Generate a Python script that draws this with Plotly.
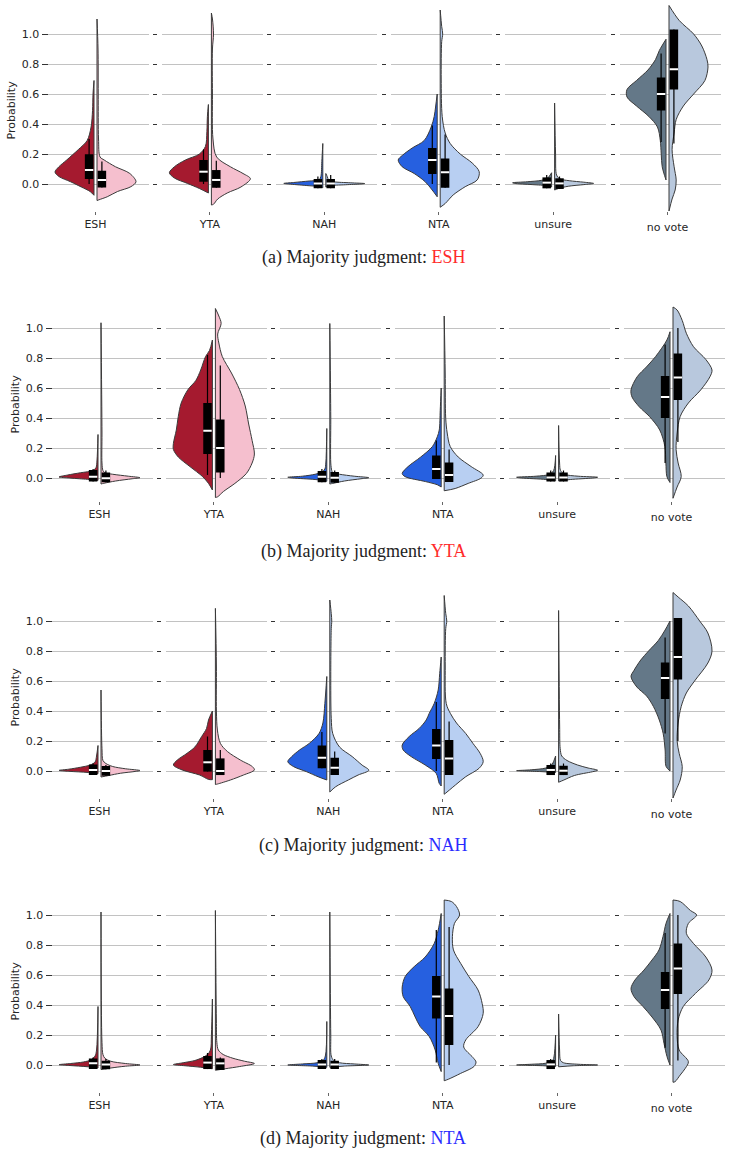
import plotly.graph_objects as go

# ---------------- data ----------------
CATEGORIES = ["ESH", "YTA", "NAH", "NTA", "unsure", "no vote"]
Y_TICKS = [0.0, 0.2, 0.4, 0.6, 0.8, 1.0]
PANEL_TAGS = ["(a)", "(b)", "(c)", "(d)"]
PANEL_JUDGMENTS = ["ESH", "YTA", "NAH", "NTA"]

# Each half-violin: y knots and relative density (width).
# Box entries: [q1, median, q3, lower whisker, upper whisker]

# ---- (a) Majority judgment: ESH ----
A_LEFT_Y = [
    [-0.075, -0.05, -0.02, 0.015, 0.05, 0.08, 0.115, 0.16, 0.23, 0.29, 0.38, 0.49, 0.6, 0.69],
    [-0.06, -0.03, 0.004, 0.04, 0.075, 0.115, 0.16, 0.2, 0.25, 0.35, 0.45, 0.53],
    [-0.025, -0.018, -0.01, 0.0, 0.004, 0.01, 0.02, 0.027, 0.05, 0.15, 0.27],
    [-0.085, -0.04, 0.015, 0.07, 0.115, 0.16, 0.19, 0.24, 0.29, 0.38, 0.45, 0.52, 0.6],
    [-0.02, -0.012, -0.004, 0.004, 0.008, 0.015, 0.025, 0.04, 0.075],
    [0.027, 0.115, 0.2, 0.29, 0.38, 0.45, 0.52, 0.58, 0.63, 0.69, 0.76, 0.83, 0.89, 0.965],
]
A_LEFT_W = [
    [0, 4, 13, 24, 36, 40, 36, 28, 16, 7, 3, 1.5, 1, 0],
    [0, 9, 21, 34, 39, 34, 23, 9, 3, 1.5, 1, 0],
    [0, 3, 17, 35, 40, 30, 14, 4, 2, 1, 0],
    [0, 5, 12, 23, 35, 39, 35, 25, 13, 6, 3, 1.5, 0],
    [0, 4, 20, 38, 40, 25, 10, 4, 0],
    [0, 4, 5, 6, 9, 18, 31, 41, 41, 31, 19, 11, 7, 0],
]
A_RIGHT_Y = [
    [-0.11, -0.105, -0.085, -0.05, -0.018, 0.015, 0.07, 0.115, 0.16, 0.18, 0.3, 0.6, 0.9, 1.1],
    [-0.14, -0.135, -0.1, -0.06, -0.02, 0.035, 0.07, 0.115, 0.18, 0.3, 0.6, 0.9, 1.0, 1.1, 1.14],
    [-0.02, -0.012, -0.005, 0.0, 0.003, 0.008, 0.015, 0.025, 0.05, 0.07],
    [-0.155, -0.13, -0.073, -0.018, 0.027, 0.082, 0.14, 0.2, 0.27, 0.34, 0.45, 0.7, 0.95, 1.0, 1.05, 1.16],
    [-0.04, -0.03, -0.015, -0.004, 0.004, 0.012, 0.022, 0.035, 0.06, 0.2, 0.54],
    [-0.18, -0.1, -0.04, 0.027, 0.115, 0.23, 0.34, 0.43, 0.52, 0.6, 0.69, 0.78, 0.83, 0.92, 1.0, 1.09, 1.19],
]
A_RIGHT_W = [
    [0, 2, 10, 20, 33, 38, 32, 18, 7, 3, 1.5, 1.2, 1, 0],
    [0, 2, 6, 15, 28, 37, 30, 18, 5, 1.5, 1, 1, 2, 1, 0],
    [0, 3, 20, 36, 40, 25, 8, 3, 1.5, 0],
    [0, 5, 13, 25, 37, 39, 32, 20, 10, 5, 2, 1, 1.5, 2.5, 1.5, 0],
    [0, 4, 14, 30, 40, 30, 15, 5, 2, 1, 0],
    [0, 3, 6, 7, 5, 3, 5, 7, 14, 24, 35, 38, 37, 32, 24, 10, 0],
]
A_LEFT_BOX = [
    [0.033, 0.093, 0.198, 0.0, 0.30],
    [0.015, 0.082, 0.16, 0.0, 0.23],
    [-0.029, 0.004, 0.033, -0.029, 0.05],
    [0.067, 0.16, 0.24, 0.0, 0.39],
    [-0.029, 0.009, 0.044, -0.029, 0.06],
    [0.49, 0.60, 0.71, 0.28, 0.87],
]
A_RIGHT_BOX = [
    [-0.024, 0.027, 0.089, -0.024, 0.15],
    [-0.025, 0.027, 0.093, -0.025, 0.155],
    [-0.029, 0.004, 0.033, -0.029, 0.06],
    [-0.025, 0.078, 0.17, -0.025, 0.33],
    [-0.033, 0.004, 0.038, -0.033, 0.05],
    [0.63, 0.765, 1.03, 0.27, 1.03],
]

# ---- (b) Majority judgment: YTA ----
B_LEFT_Y = [
    [-0.016, -0.013, -0.005, 0.0, 0.007, 0.02, 0.035, 0.05, 0.07, 0.12, 0.29],
    [-0.08, -0.036, 0.009, 0.076, 0.14, 0.19, 0.23, 0.32, 0.41, 0.5, 0.59, 0.65, 0.72, 0.81, 0.85, 0.92],
    [-0.022, -0.018, -0.01, 0.0, 0.005, 0.012, 0.025, 0.04, 0.06, 0.1, 0.33],
    [-0.06, -0.045, -0.024, 0.009, 0.03, 0.076, 0.14, 0.21, 0.275, 0.32, 0.45, 0.6],
    [-0.02, -0.01, 0.0, 0.005, 0.012, 0.025, 0.05, 0.15],
    [-0.03, 0.009, 0.1, 0.21, 0.32, 0.41, 0.475, 0.54, 0.587, 0.675, 0.74, 0.81, 0.92, 0.975],
]
B_LEFT_W = [
    [0, 3, 19, 29, 40, 31, 18, 5, 2, 1, 0],
    [0, 4, 10, 23, 35, 40, 40, 37, 35, 32, 25, 17, 12, 7, 3, 0],
    [0, 3, 12, 35, 40, 25, 12, 5, 2, 1, 0],
    [0, 4, 16, 37, 40, 34, 21, 9, 4, 2, 1, 0],
    [0, 10, 35, 40, 20, 6, 2, 0],
    [0, 3, 4, 5, 10, 20, 30, 37, 38, 32, 23, 14, 3, 0],
]
B_RIGHT_Y = [
    [-0.04, -0.035, -0.02, -0.005, 0.002, 0.012, 0.025, 0.035, 0.05, 0.1, 0.3, 1.035],
    [-0.13, -0.125, -0.09, -0.036, 0.03, 0.1, 0.16, 0.25, 0.36, 0.48, 0.59, 0.7, 0.81, 0.9, 0.96, 1.03, 1.08, 1.13],
    [-0.04, -0.036, -0.02, -0.005, 0.002, 0.012, 0.025, 0.036, 0.05, 0.1, 0.4, 1.03],
    [-0.085, -0.07, -0.036, 0.0, 0.02, 0.076, 0.14, 0.21, 0.3, 0.4, 0.7, 1.08],
    [-0.02, -0.01, 0.0, 0.005, 0.012, 0.025, 0.05, 0.1, 0.35],
    [-0.135, -0.06, 0.009, 0.1, 0.19, 0.3, 0.41, 0.5, 0.587, 0.675, 0.72, 0.79, 0.875, 0.965, 1.05, 1.12, 1.14],
]
B_RIGHT_W = [
    [0, 3, 15, 32, 40, 28, 12, 4, 2, 1, 1, 0],
    [0, 2, 7, 17, 27, 32, 34, 32, 29, 26, 21, 14, 6, 3, 2, 5, 3, 0],
    [0, 3, 15, 32, 40, 25, 10, 3, 2, 1, 1, 0],
    [0, 11, 24, 37, 39, 27, 14, 6, 3, 1.5, 1, 0],
    [0, 12, 35, 40, 20, 6, 2, 1, 0],
    [0, 4, 8, 5, 3, 4, 7, 15, 27, 36, 38, 32, 20, 13, 9, 4, 0],
]
B_LEFT_BOX = [
    [-0.024, 0.009, 0.053, -0.024, 0.06],
    [0.16, 0.315, 0.50, 0.02, 0.82],
    [-0.029, 0.009, 0.047, -0.029, 0.06],
    [-0.007, 0.06, 0.15, -0.007, 0.25],
    [-0.024, 0.004, 0.036, -0.024, 0.05],
    [0.40, 0.54, 0.68, 0.10, 0.89],
]
B_RIGHT_BOX = [
    [-0.029, -0.002, 0.036, -0.029, 0.05],
    [0.036, 0.20, 0.39, 0.0, 0.75],
    [-0.031, 0.002, 0.04, -0.031, 0.05],
    [-0.027, 0.02, 0.104, -0.027, 0.19],
    [-0.024, 0.004, 0.036, -0.024, 0.05],
    [0.52, 0.67, 0.83, 0.24, 1.0],
]

# ---- (c) Majority judgment: NAH ----
C_LEFT_Y = [
    [-0.018, -0.01, -0.002, 0.004, 0.012, 0.025, 0.04, 0.06, 0.1, 0.17],
    [-0.058, -0.056, -0.027, 0.007, 0.04, 0.073, 0.118, 0.16, 0.23, 0.284, 0.34, 0.4],
    [-0.06, -0.038, -0.004, 0.029, 0.062, 0.096, 0.14, 0.184, 0.25, 0.32, 0.45, 0.63],
    [-0.1, -0.082, -0.016, 0.04, 0.096, 0.14, 0.173, 0.23, 0.284, 0.34, 0.384, 0.45, 0.54, 0.65, 0.76],
    [-0.01, -0.004, 0.002, 0.008, 0.02, 0.04, 0.1],
    [0.0, 0.03, 0.14, 0.25, 0.34, 0.43, 0.5, 0.56, 0.63, 0.67, 0.74, 0.8, 0.87, 0.94, 1.0],
]
C_LEFT_W = [
    [0, 10, 30, 40, 30, 18, 8, 3, 1.5, 0],
    [0, 4, 13, 31, 40, 36, 26, 18, 11, 6, 4, 0],
    [0, 9, 21, 34, 40, 36, 28, 18, 8, 4, 2, 0],
    [0, 2, 5, 16, 30, 38, 39, 32, 22, 15, 12, 7, 3, 1.5, 0],
    [0, 15, 40, 25, 10, 4, 0],
    [0, 4, 5, 7, 11, 17, 24, 34, 40, 37, 30, 22, 12, 5, 0],
]
C_RIGHT_Y = [
    [-0.04, -0.03, -0.015, -0.003, 0.003, 0.015, 0.03, 0.05, 0.07, 0.15, 0.54],
    [-0.09, -0.087, -0.06, -0.027, 0.007, 0.029, 0.073, 0.13, 0.184, 0.273, 0.4, 0.7, 1.084],
    [-0.14, -0.105, -0.06, -0.027, 0.005, 0.04, 0.096, 0.16, 0.25, 0.35, 0.6, 0.95, 1.0, 1.05, 1.14],
    [-0.155, -0.15, -0.093, -0.038, 0.018, 0.062, 0.118, 0.184, 0.25, 0.32, 0.384, 0.45, 0.7, 0.95, 1.0, 1.05, 1.17],
    [-0.075, -0.06, -0.03, -0.005, 0.005, 0.02, 0.04, 0.07, 0.1, 0.15, 0.3, 1.07],
    [-0.18, -0.127, -0.06, 0.029, 0.118, 0.2, 0.32, 0.43, 0.52, 0.6, 0.72, 0.8, 0.92, 1.0, 1.1, 1.16, 1.19],
]
C_RIGHT_W = [
    [0, 8, 20, 35, 40, 25, 12, 5, 2, 1, 0],
    [0, 2, 15, 28, 39, 37, 25, 12, 5, 2, 1, 1, 0],
    [0, 6, 19, 29, 40, 33, 23, 10, 3, 1.5, 1, 1.5, 2, 1.5, 0],
    [0, 1, 11, 21, 34, 38, 35, 28, 21, 12, 6, 2, 1, 1.5, 2.5, 1.5, 0],
    [0, 5, 15, 32, 37, 28, 18, 8, 3, 1.5, 1, 0],
    [0, 3, 7, 9, 6, 4, 5, 8, 13, 21, 34, 38, 34, 26, 15, 5, 0],
]
C_LEFT_BOX = [
    [-0.027, 0.007, 0.044, -0.027, 0.05],
    [-0.004, 0.058, 0.14, -0.004, 0.23],
    [0.018, 0.089, 0.17, 0.018, 0.26],
    [0.08, 0.17, 0.28, 0.0, 0.46],
    [-0.027, 0.007, 0.04, -0.027, 0.05],
    [0.48, 0.62, 0.724, 0.25, 0.89],
]
C_RIGHT_BOX = [
    [-0.031, 0.0, 0.033, -0.031, 0.04],
    [-0.027, 0.0, 0.084, -0.027, 0.14],
    [-0.027, 0.022, 0.089, -0.027, 0.13],
    [-0.027, 0.084, 0.207, -0.027, 0.33],
    [-0.027, 0.002, 0.035, -0.027, 0.05],
    [0.61, 0.76, 1.02, 0.20, 1.02],
]

# ---- (d) Majority judgment: NTA ----
D_LEFT_Y = [
    [-0.02, -0.012, -0.003, 0.002, 0.01, 0.02, 0.035, 0.06, 0.1, 0.39],
    [-0.025, -0.015, -0.005, 0.003, 0.015, 0.03, 0.05, 0.07, 0.1, 0.2, 0.44],
    [-0.015, -0.007, 0.0, 0.007, 0.015, 0.03, 0.06, 0.29],
    [-0.044, 0.011, 0.1, 0.19, 0.256, 0.32, 0.39, 0.456, 0.52, 0.59, 0.656, 0.72, 0.81, 0.9, 1.01],
    [-0.01, -0.005, 0.0, 0.005, 0.012, 0.03, 0.06, 0.2],
    [0.0, 0.056, 0.144, 0.233, 0.32, 0.39, 0.456, 0.51, 0.567, 0.633, 0.7, 0.767, 0.856, 0.944, 1.01],
]
D_LEFT_W = [
    [0, 10, 30, 40, 28, 15, 7, 3, 1.5, 0],
    [0, 12, 28, 40, 30, 18, 10, 5, 2, 1, 0],
    [0, 15, 40, 25, 10, 4, 1.5, 0],
    [0, 3, 6, 12, 21, 26, 31, 38, 39, 36, 27, 16, 7, 3, 0],
    [0, 12, 40, 25, 10, 3, 1.5, 0],
    [0, 3, 6, 9, 18, 27, 36, 39, 35, 26, 18, 11, 7, 4, 0],
]
D_RIGHT_Y = [
    [-0.03, -0.02, -0.008, 0.0, 0.01, 0.025, 0.045, 0.07, 0.15, 1.02],
    [-0.035, -0.025, -0.01, 0.01, 0.025, 0.045, 0.07, 0.1, 0.15, 0.3, 1.03],
    [-0.015, -0.007, 0.0, 0.007, 0.015, 0.03, 0.06, 0.2, 1.02],
    [-0.105, -0.095, -0.056, -0.01, 0.02, 0.05, 0.12, 0.167, 0.256, 0.344, 0.41, 0.5, 0.59, 0.678, 0.767, 0.856, 0.944, 1.0, 1.056, 1.09, 1.1],
    [-0.012, -0.005, 0.0, 0.005, 0.015, 0.03, 0.1, 0.34],
    [-0.115, -0.111, -0.067, -0.022, 0.022, 0.1, 0.19, 0.3, 0.39, 0.478, 0.567, 0.633, 0.72, 0.81, 0.878, 0.944, 1.0, 1.03, 1.09, 1.1],
]
D_RIGHT_W = [
    [0, 10, 25, 40, 25, 10, 4, 2, 1, 0],
    [0, 10, 25, 40, 30, 18, 8, 3, 1.5, 1, 0],
    [0, 15, 40, 25, 10, 4, 1.5, 1, 0],
    [0, 4, 16, 29, 31, 28, 19, 21, 33, 38, 37, 33, 24, 16, 9, 8, 10, 15, 12, 7, 0],
    [0, 15, 40, 20, 5, 2, 1, 0],
    [0, 2, 7, 12, 15, 6, 4, 5, 10, 22, 35, 38, 32, 20, 13, 15, 23, 17, 7, 0],
]
D_LEFT_BOX = [
    [-0.027, 0.011, 0.044, -0.027, 0.05],
    [-0.027, 0.016, 0.06, -0.027, 0.08],
    [-0.027, 0.004, 0.033, -0.027, 0.04],
    [0.31, 0.456, 0.593, 0.016, 0.90],
    [-0.027, 0.004, 0.033, -0.027, 0.04],
    [0.373, 0.50, 0.62, 0.115, 0.88],
]
D_RIGHT_BOX = [
    [-0.029, 0.004, 0.029, -0.029, 0.04],
    [-0.033, 0.011, 0.044, -0.033, 0.05],
    [-0.027, 0.004, 0.029, -0.027, 0.04],
    [0.133, 0.327, 0.51, 0.0, 0.92],
    None,
    [0.473, 0.644, 0.81, 0.03, 1.0],
]

PANELS = [
    (A_LEFT_Y, A_LEFT_W, A_RIGHT_Y, A_RIGHT_W, A_LEFT_BOX, A_RIGHT_BOX),
    (B_LEFT_Y, B_LEFT_W, B_RIGHT_Y, B_RIGHT_W, B_LEFT_BOX, B_RIGHT_BOX),
    (C_LEFT_Y, C_LEFT_W, C_RIGHT_Y, C_RIGHT_W, C_LEFT_BOX, C_RIGHT_BOX),
    (D_LEFT_Y, D_LEFT_W, D_RIGHT_Y, D_RIGHT_W, D_LEFT_BOX, D_RIGHT_BOX),
]

# ---------------- style / layout ----------------
W, H = 730, 1155
PAIR_COLORS = {
    "ESH": ("#a51a2f", "#f5bfce"),
    "YTA": ("#a51a2f", "#f5bfce"),
    "NAH": ("#2660e0", "#b8cff2"),
    "NTA": ("#2660e0", "#b8cff2"),
    "unsure": ("#647888", "#b8c8dd"),
    "no vote": ("#647888", "#b8c8dd"),
}
CAPTION_COLORS = {"ESH": "#ff2b2b", "YTA": "#ff2b2b", "NAH": "#2b2bff", "NTA": "#2b2bff"}
EDGE = "#3a3a3a"
GRID = "#c2c2c2"
TXT = "#262626"
FONT = "DejaVu Sans"
FS = 11

HALF = 0.39      # max half-width (data units, 100 px per unit)
GAP = 0.015      # gap between the two halves
BOXPOS = 0.064   # box centre offset
BOX_PX = 8.5     # box thickness in px

ZERO_PX = [184, 478, 771, 1065]
Y_BOTTOM = [-0.18, -0.155, -0.18, -0.18]
Y_TOP = 1.2
PX_PER_UNIT = 150
X_SHIFT = [-4, 0, 0, 0]
CAPTION_PX = [257, 551, 845, 1138]


def px_x(v):
    return v / W


def px_y(v):
    return 1 - v / H


fig = go.Figure()
layout = {}
annotations = []

n = 0
for p in range(4):
    LY, LW, RY, RW, LB, RB = PANELS[p]
    y0 = ZERO_PX[p]
    top_px = y0 - Y_TOP * PX_PER_UNIT
    bot_px = y0 - Y_BOTTOM[p] * PX_PER_UNIT
    for j, cat in enumerate(CATEGORIES):
        n += 1
        xa, ya = f"x{n}", f"y{n}"
        xk = "xaxis" if n == 1 else f"xaxis{n}"
        yk = "yaxis" if n == 1 else f"yaxis{n}"
        c = 99.5 + 114.4 * j + X_SHIFT[p]
        d0, d1 = c - 48, c + 53
        dark, light = PAIR_COLORS[cat]

        # split violin halves
        for side, ys, ws, col in ((-1, LY[j], LW[j], dark), (1, RY[j], RW[j], light)):
            m = max(ws)
            xs = [side * (GAP + w / m * HALF) for w in ws]
            fig.add_trace(go.Scatter(
                x=xs, y=ys, mode="lines", fill="toself", fillcolor=col,
                line=dict(color=EDGE, width=1, shape="spline", smoothing=0.9),
                xaxis=xa, yaxis=ya, hoverinfo="skip", showlegend=False))
            fig.add_trace(go.Scatter(
                x=[side * GAP, side * GAP], y=[ys[0], ys[-1]], mode="lines",
                line=dict(color=EDGE, width=1),
                xaxis=xa, yaxis=ya, hoverinfo="skip", showlegend=False))

        # inner boxes (whisker, IQR bar, median)
        for side, box in ((-1, LB[j]), (1, RB[j])):
            if box is None:
                continue
            q1, med, q3, lo, hi = box
            pos = side * BOXPOS
            fig.add_trace(go.Scatter(
                x=[pos, pos], y=[lo, hi], mode="lines",
                line=dict(color="black", width=1.2),
                xaxis=xa, yaxis=ya, hoverinfo="skip", showlegend=False))
            fig.add_trace(go.Scatter(
                x=[pos, pos], y=[q1, q3], mode="lines",
                line=dict(color="black", width=BOX_PX),
                xaxis=xa, yaxis=ya, hoverinfo="skip", showlegend=False))
            fig.add_trace(go.Scatter(
                x=[pos], y=[med], mode="markers",
                marker=dict(symbol="line-ew", size=6, line=dict(color="white", width=2)),
                xaxis=xa, yaxis=ya, hoverinfo="skip", showlegend=False))

        layout[xk] = dict(
            domain=[px_x(d0), px_x(d1)], range=[-0.48, 0.53], anchor=ya,
            tickvals=[0], ticktext=[cat], ticks="outside", ticklen=3,
            tickcolor="#666", tickwidth=1, showgrid=False, zeroline=False,
            showline=False, fixedrange=True,
            tickfont=dict(family=FONT, size=FS, color=TXT),
            ticklabelstandoff=3 if cat == "no vote" else 0,
        )
        first = j == 0
        layout[yk] = dict(
            domain=[px_y(bot_px), px_y(top_px)], range=[Y_BOTTOM[p], Y_TOP],
            anchor="free", position=px_x(d0 if first else d0 - 5),
            tickvals=Y_TICKS, ticktext=[f"{v:.1f}" for v in Y_TICKS],
            showticklabels=first, ticks="outside", ticklen=6 if first else 4,
            tickcolor="#333", tickwidth=1,
            showgrid=True, gridcolor=GRID, gridwidth=1, zeroline=False,
            showline=False, fixedrange=True,
            tickfont=dict(family=FONT, size=FS, color=TXT),
        )

    # y-axis title
    annotations.append(dict(
        text="Probability", textangle=-90, xref="paper", yref="paper",
        x=px_x(15 + X_SHIFT[p]), y=px_y(y0 - 0.49 * PX_PER_UNIT),
        showarrow=False, xanchor="center", yanchor="middle",
        font=dict(family=FONT, size=FS, color=TXT)))
    # caption
    jd = PANEL_JUDGMENTS[p]
    annotations.append(dict(
        text=f"{PANEL_TAGS[p]} Majority judgment: <span style='color:{CAPTION_COLORS[jd]}'>{jd}</span>",
        xref="paper", yref="paper", x=px_x(363), y=px_y(CAPTION_PX[p]),
        showarrow=False, xanchor="center", yanchor="middle",
        font=dict(family="Liberation Serif", size=18, color="#222")))

fig.update_layout(
    width=W, height=H, margin=dict(l=0, r=0, t=0, b=0),
    paper_bgcolor="white", plot_bgcolor="white", showlegend=False,
    annotations=annotations, **layout)

fig.write_html("out.html")
